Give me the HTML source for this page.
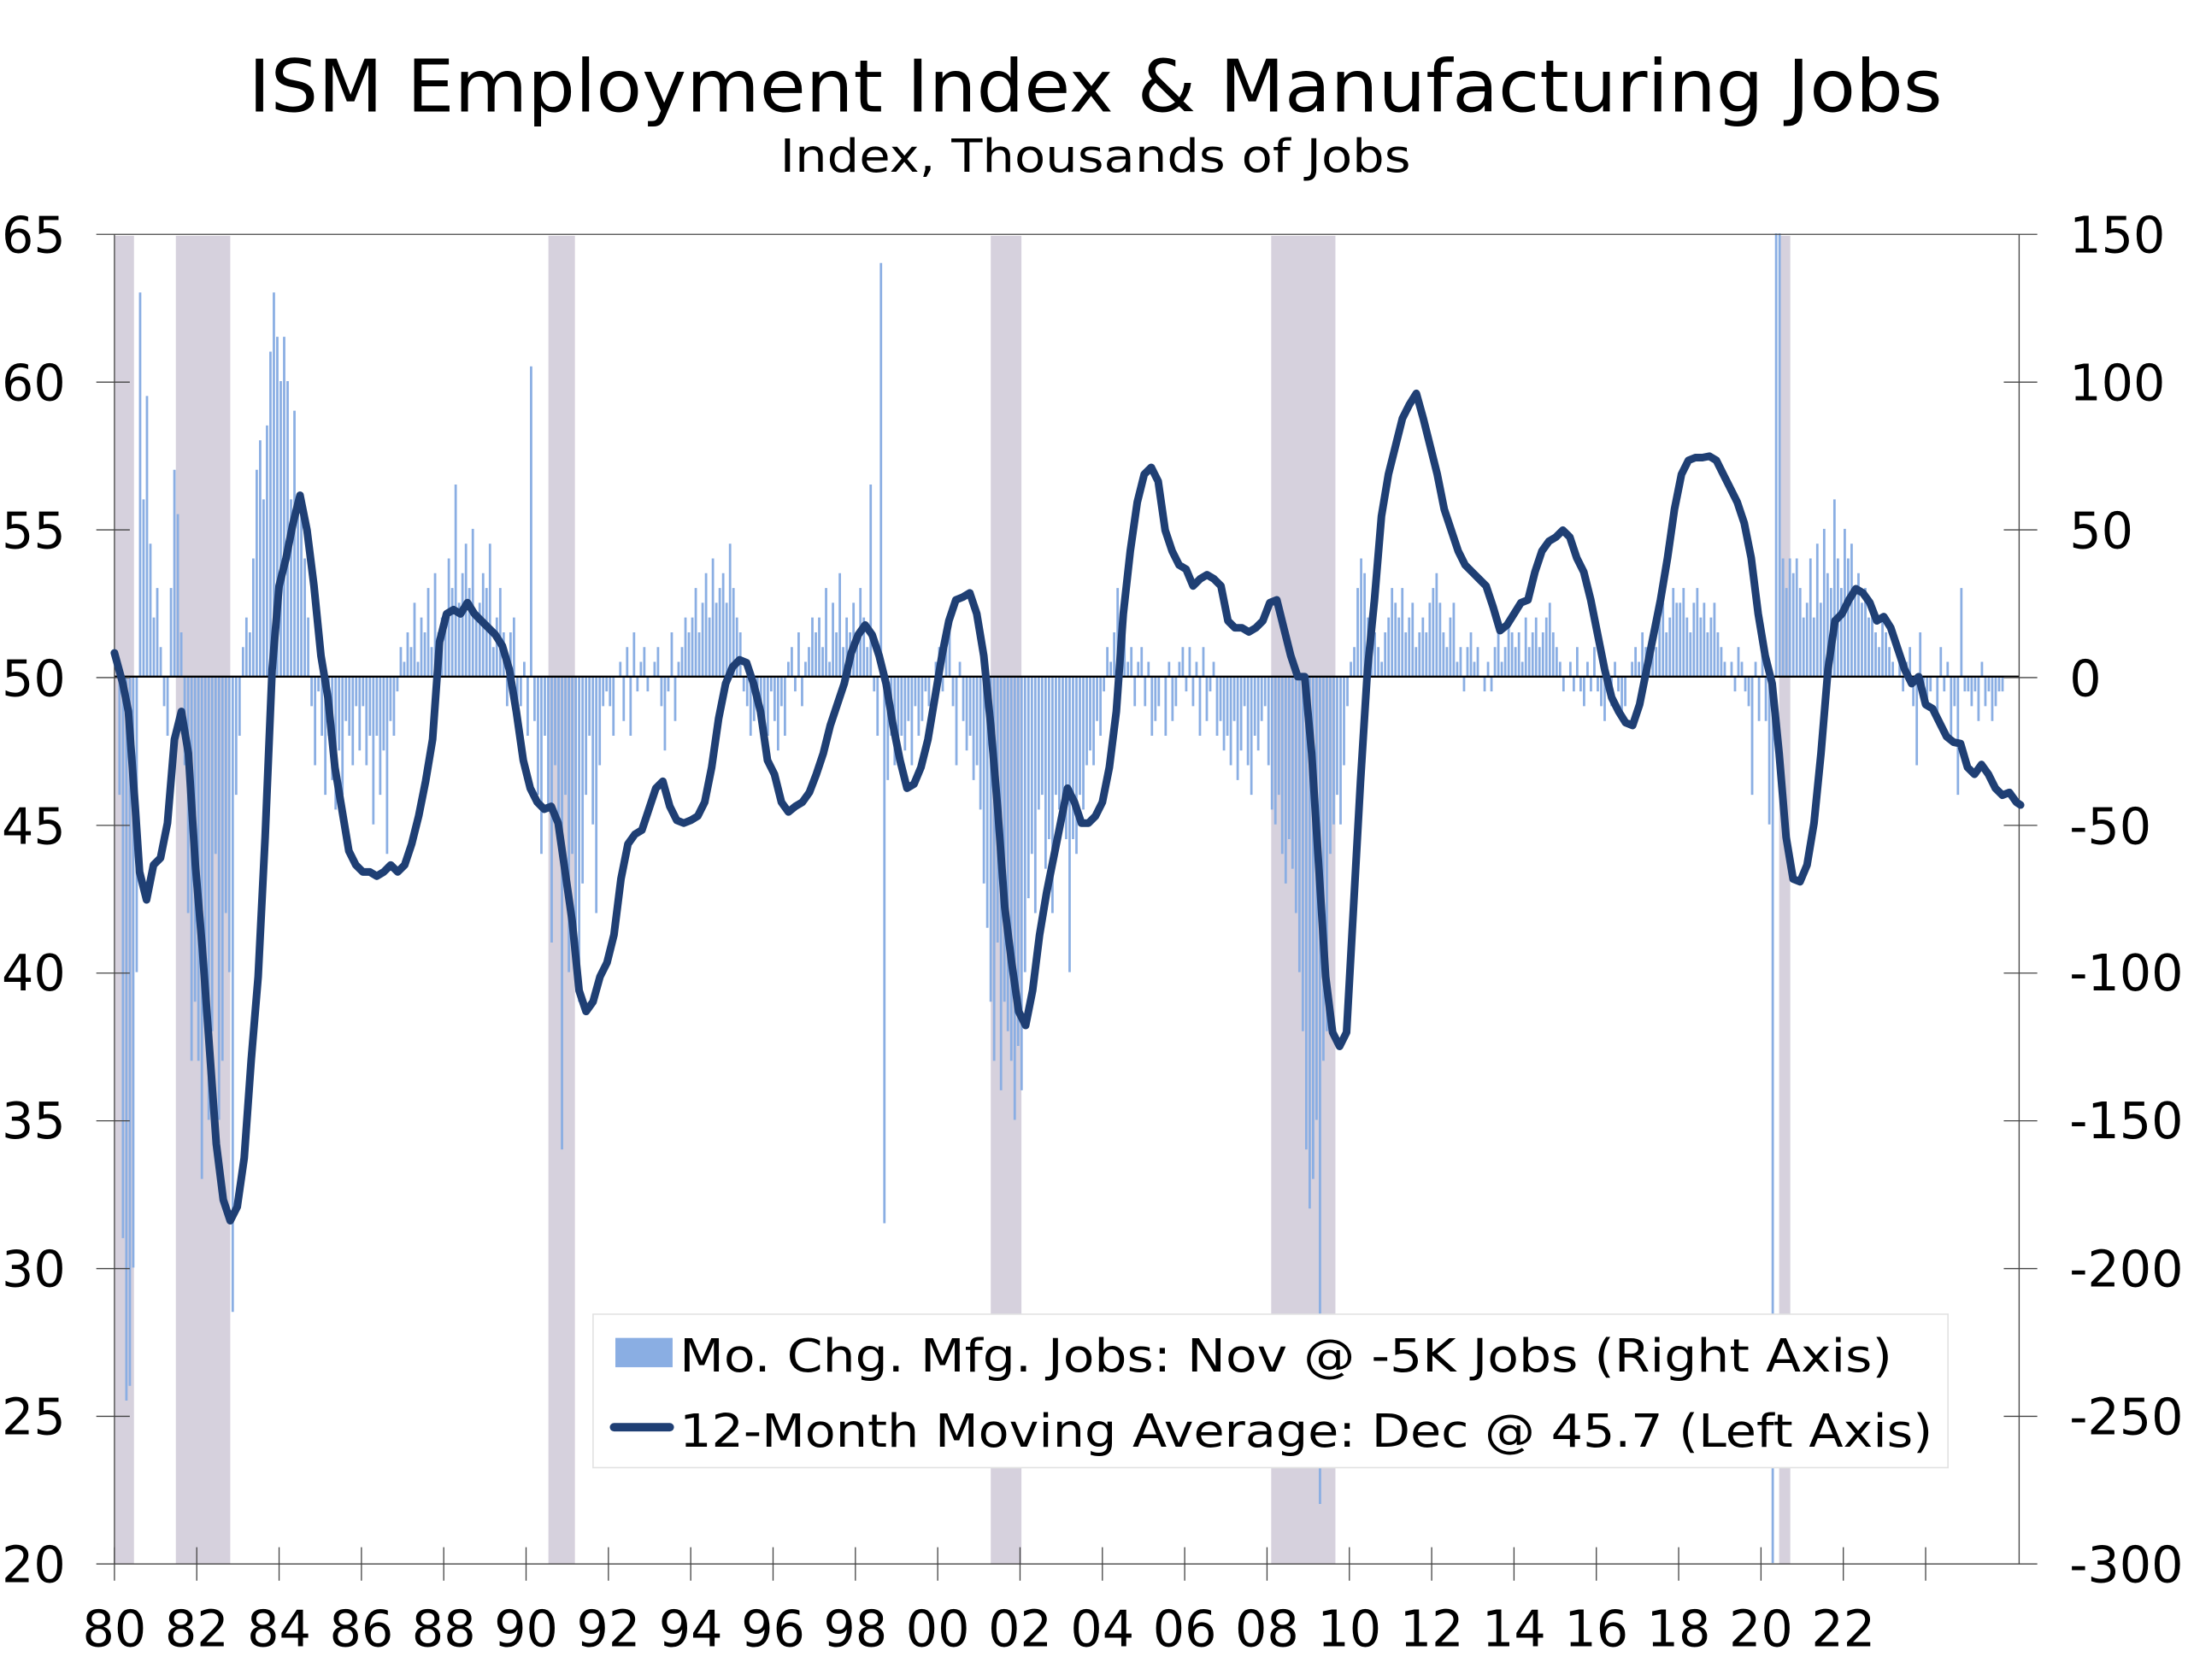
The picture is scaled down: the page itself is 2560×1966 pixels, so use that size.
<!DOCTYPE html>
<html><head><meta charset="utf-8">
<style>
html,body{margin:0;padding:0;background:#fff;}
svg{display:block;}
text{font-family:"DejaVu Sans","Liberation Sans",sans-serif;fill:#000;}
</style></head>
<body>
<svg width="2560" height="1966" viewBox="0 0 1568 1204.2" xmlns="http://www.w3.org/2000/svg">
<g fill="#d6d1dd">
<rect x="82" y="169" width="14" height="952"/>
<rect x="126" y="169" width="39" height="952"/>
<rect x="393" y="169" width="19" height="952"/>
<rect x="710" y="169" width="22" height="952"/>
<rect x="911" y="169" width="46" height="952"/>
<rect x="1275" y="169" width="8" height="952"/>
</g>
<g transform="matrix(1 0 0 -2.118 0 485)">
<path fill="none" stroke="#8aaee3" stroke-width="1.7" d="M83.2 0
v0m2.458 0v-40m2.458 40v-190m2.458 190v-245m2.458 245v-240m2.458 240v-200m2.458 200v-100m2.458 100v130m2.458 -130v60m2.458 -60v95m2.458 -95v45m2.458 -45v20m2.458 -20
v30m2.458 -30v10m2.458 -10v-10m2.458 10v-20m2.458 20v30m2.458 -30v70m2.458 -70v55m2.458 -55v15m2.458 -15v-30m2.458 30v-80m2.458 80v-130m2.458 130v-110m2.458 110
v-130m2.458 130v-170m2.458 170v-100m2.458 100v-150m2.458 150v-120m2.458 120v-60m2.458 60v-150m2.458 150v-130m2.458 130v-80m2.458 80v-100m2.458 100v-215m2.458 215v-40m2.458 40
v-20m2.458 20v10m2.458 -10v20m2.458 -20v15m2.458 -15v40m2.458 -40v70m2.458 -70v80m2.458 -80v60m2.458 -60v85m2.458 -85v110m2.458 -110v130m2.458 -130v115m2.458 -115
v100m2.458 -100v115m2.458 -115v100m2.458 -100v60m2.458 -60v90m2.458 -90v60m2.458 -60v55m2.458 -55v40m2.458 -40v20m2.458 -20v-10m2.458 10v-30m2.458 30v-5m2.458 5
v-20m2.458 20v-40m2.458 40v-20m2.458 20v-35m2.458 35v-45m2.458 45v-25m2.458 25v-40m2.458 40v-15m2.458 15v-20m2.458 20v-30m2.458 30v-10m2.458 10v-25m2.458 25
v-10m2.458 10v-30m2.458 30v-20m2.458 20v-50m2.458 50v-20m2.458 20v-40m2.458 40v-25m2.458 25v-60m2.458 60v-15m2.458 15v-20m2.458 20v-5m2.458 5v10m2.458 -10
v5m2.458 -5v15m2.458 -15v10m2.458 -10v25m2.458 -25v5m2.458 -5v20m2.458 -20v15m2.458 -15v30m2.458 -30v10m2.458 -10v35m2.458 -35v15m2.458 -15v20m2.458 -20
v20m2.458 -20v40m2.458 -40v30m2.458 -30v65m2.458 -65v25m2.458 -25v35m2.458 -35v45m2.458 -45v30m2.458 -30v50m2.458 -50v20m2.458 -20v25m2.458 -25v35m2.458 -35
v30m2.458 -30v45m2.458 -45v10m2.458 -10v20m2.458 -20v30m2.458 -30v15m2.458 -15v-10m2.458 10v15m2.458 -15v20m2.458 -20v-15m2.458 15v-10m2.458 10v5m2.458 -5
v-20m2.458 20v105m2.458 -105v-15m2.458 15v-40m2.458 40v-60m2.458 60v-20m2.458 20v-45m2.458 45v-90m2.458 90v-30m2.458 30v-50m2.458 50v-160m2.458 160v-40m2.458 40
v-100m2.458 100v-60m2.458 60v-90m2.458 90v-110m2.458 110v-70m2.458 70v-40m2.458 40v-20m2.458 20v-50m2.458 50v-80m2.458 80v-30m2.458 30v-10m2.458 10v-5m2.458 5
v-10m2.458 10v-20m2.458 20v0m2.458 0v5m2.458 -5v-15m2.458 15v10m2.458 -10v-20m2.458 20v15m2.458 -15v-5m2.458 5v5m2.458 -5v10m2.458 -10v-5m2.458 5
v0m2.458 0v5m2.458 -5v10m2.458 -10v-10m2.458 10v-25m2.458 25v-5m2.458 5v15m2.458 -15v-15m2.458 15v5m2.458 -5v10m2.458 -10v20m2.458 -20v15m2.458 -15
v20m2.458 -20v30m2.458 -30v15m2.458 -15v25m2.458 -25v35m2.458 -35v20m2.458 -20v40m2.458 -40v25m2.458 -25v30m2.458 -30v35m2.458 -35v25m2.458 -25v45m2.458 -45
v30m2.458 -30v20m2.458 -20v15m2.458 -15v-5m2.458 5v-10m2.458 10v-20m2.458 20v-15m2.458 15v-5m2.458 5v-10m2.458 10v-15m2.458 15v-20m2.458 20v-5m2.458 5
v-15m2.458 15v-25m2.458 25v-10m2.458 10v-20m2.458 20v5m2.458 -5v10m2.458 -10v-5m2.458 5v15m2.458 -15v-10m2.458 10v5m2.458 -5v10m2.458 -10v20m2.458 -20
v15m2.458 -15v20m2.458 -20v10m2.458 -10v30m2.458 -30v5m2.458 -5v25m2.458 -25v15m2.458 -15v35m2.458 -35v10m2.458 -10v20m2.458 -20v15m2.458 -15v25m2.458 -25
v15m2.458 -15v30m2.458 -30v20m2.458 -20v10m2.458 -10v65m2.458 -65v-5m2.458 5v-20m2.458 20v140m2.458 -140v-185m2.458 185v-35m2.458 35v-20m2.458 20v-30m2.458 30
v-30m2.458 30v-20m2.458 20v-25m2.458 25v-15m2.458 15v-30m2.458 30v-10m2.458 10v-20m2.458 20v-15m2.458 15v-5m2.458 5v-10m2.458 10v0m2.458 0v5m2.458 -5
v10m2.458 -10v-5m2.458 5v15m2.458 -15v20m2.458 -20v-10m2.458 10v-30m2.458 30v5m2.458 -5v-15m2.458 15v-25m2.458 25v-20m2.458 20v-35m2.458 35v-30m2.458 30
v-45m2.458 45v-70m2.458 70v-85m2.458 85v-110m2.458 110v-130m2.458 130v-90m2.458 90v-140m2.458 140v-110m2.458 110v-120m2.458 120v-130m2.458 130v-150m2.458 150v-125m2.458 125
v-140m2.458 140v-100m2.458 100v-75m2.458 75v-60m2.458 60v-80m2.458 80v-45m2.458 45v-40m2.458 40v-65m2.458 65v-55m2.458 55v-80m2.458 80v-40m2.458 40v-45m2.458 45
v-50m2.458 50v-55m2.458 55v-100m2.458 100v-55m2.458 55v-60m2.458 60v-40m2.458 40v-45m2.458 45v-30m2.458 30v-25m2.458 25v-30m2.458 30v-15m2.458 15v-20m2.458 20
v-5m2.458 5v10m2.458 -10v5m2.458 -5v15m2.458 -15v30m2.458 -30v15m2.458 -15v25m2.458 -25v5m2.458 -5v10m2.458 -10v-10m2.458 10v5m2.458 -5v10m2.458 -10
v-10m2.458 10v5m2.458 -5v-20m2.458 20v-15m2.458 15v-10m2.458 10v0m2.458 0v-20m2.458 20v5m2.458 -5v-15m2.458 15v-10m2.458 10v5m2.458 -5v10m2.458 -10
v-5m2.458 5v10m2.458 -10v-10m2.458 10v5m2.458 -5v-20m2.458 20v10m2.458 -10v-15m2.458 15v-5m2.458 5v5m2.458 -5v-20m2.458 20v-15m2.458 15v-25m2.458 25
v-20m2.458 20v-30m2.458 30v-15m2.458 15v-35m2.458 35v-25m2.458 25v-10m2.458 10v-30m2.458 30v-40m2.458 40v-20m2.458 20v-25m2.458 25v-15m2.458 15v-10m2.458 10
v-30m2.458 30v-45m2.458 45v-50m2.458 50v-40m2.458 40v-60m2.458 60v-70m2.458 70v-55m2.458 55v-65m2.458 65v-80m2.458 80v-100m2.458 100v-120m2.458 120v-160m2.458 160
v-180m2.458 180v-170m2.458 170v-150m2.458 150v-280m2.458 280v-130m2.458 130v-120m2.458 120v-60m2.458 60v-50m2.458 50v-40m2.458 40v-50m2.458 50v-30m2.458 30v-10m2.458 10
v5m2.458 -5v10m2.458 -10v30m2.458 -30v40m2.458 -40v35m2.458 -35v20m2.458 -20v25m2.458 -25v15m2.458 -15v10m2.458 -10v5m2.458 -5v15m2.458 -15v20m2.458 -20
v30m2.458 -30v25m2.458 -25v20m2.458 -20v30m2.458 -30v15m2.458 -15v20m2.458 -20v25m2.458 -25v10m2.458 -10v15m2.458 -15v20m2.458 -20v15m2.458 -15v25m2.458 -25
v30m2.458 -30v35m2.458 -35v25m2.458 -25v15m2.458 -15v10m2.458 -10v20m2.458 -20v25m2.458 -25v5m2.458 -5v10m2.458 -10v-5m2.458 5v10m2.458 -10v15m2.458 -15
v5m2.458 -5v10m2.458 -10v0m2.458 0v-5m2.458 5v5m2.458 -5v-5m2.458 5v10m2.458 -10v15m2.458 -15v5m2.458 -5v10m2.458 -10v20m2.458 -20v15m2.458 -15
v10m2.458 -10v15m2.458 -15v5m2.458 -5v20m2.458 -20v10m2.458 -10v15m2.458 -15v20m2.458 -20v10m2.458 -10v15m2.458 -15v20m2.458 -20v25m2.458 -25v15m2.458 -15
v10m2.458 -10v5m2.458 -5v-5m2.458 5v0m2.458 0v5m2.458 -5v-5m2.458 5v10m2.458 -10v-5m2.458 5v-10m2.458 10v5m2.458 -5v-5m2.458 5v10m2.458 -10
v-5m2.458 5v-10m2.458 10v-15m2.458 15v-5m2.458 5v-10m2.458 10v5m2.458 -5v-5m2.458 5v-15m2.458 15v-10m2.458 10v0m2.458 0v5m2.458 -5v10m2.458 -10
v5m2.458 -5v15m2.458 -15v10m2.458 -10v5m2.458 -5v15m2.458 -15v10m2.458 -10v20m2.458 -20v25m2.458 -25v15m2.458 -15v20m2.458 -20v30m2.458 -30v25m2.458 -25
v25m2.458 -25v30m2.458 -30v20m2.458 -20v15m2.458 -15v25m2.458 -25v30m2.458 -30v20m2.458 -20v25m2.458 -25v15m2.458 -15v20m2.458 -20v25m2.458 -25v15m2.458 -15
v10m2.458 -10v5m2.458 -5v0m2.458 0v5m2.458 -5v-5m2.458 5v10m2.458 -10v5m2.458 -5v-5m2.458 5v-10m2.458 10v-40m2.458 40v5m2.458 -5v-15m2.458 15
v10m2.458 -10v-15m2.458 15v-50m2.458 50v-300m2.458 300v150m2.458 -150v150m2.458 -150v40m2.458 -40v30m2.458 -30v40m2.458 -40v35m2.458 -35v40m2.458 -40v30m2.458 -30
v20m2.458 -20v25m2.458 -25v40m2.458 -40v20m2.458 -20v45m2.458 -45v25m2.458 -25v50m2.458 -50v35m2.458 -35v30m2.458 -30v60m2.458 -60v40m2.458 -40v30m2.458 -30
v50m2.458 -50v40m2.458 -40v45m2.458 -45v30m2.458 -30v35m2.458 -35v25m2.458 -25v30m2.458 -30v20m2.458 -20v25m2.458 -25v15m2.458 -15v10m2.458 -10v20m2.458 -20
v15m2.458 -15v10m2.458 -10v5m2.458 -5v0m2.458 0v10m2.458 -10v-5m2.458 5v5m2.458 -5v10m2.458 -10v-10m2.458 10v-30m2.458 30v15m2.458 -15v-5m2.458 5
v-10m2.458 10v-5m2.458 5v0m2.458 0v-15m2.458 15v10m2.458 -10v-5m2.458 5v5m2.458 -5v-20m2.458 20v-10m2.458 10v-40m2.458 40v30m2.458 -30v-5m2.458 5
v-5m2.458 5v-10m2.458 10v-5m2.458 5v-15m2.458 15v5m2.458 -5v-10m2.458 10v-5m2.458 5v-15m2.458 15v-10m2.458 10v-5m2.458 5v-5"/>
</g>
<line x1="82" y1="485" x2="1447" y2="485" stroke="#000" stroke-width="1.5"/>
<g stroke="#444" stroke-width="0.8" fill="none">
<line x1="82" y1="168" x2="82" y2="1121"/>
<line x1="1447" y1="168" x2="1447" y2="1121"/>
<line x1="69" y1="168" x2="1460" y2="168"/>
<line x1="69" y1="1121" x2="1460" y2="1121"/>
<path d="M69 273.9H93M69 379.8H93M69 485.7H93M69 591.6H93M69 697.5H93M69 803.4H93M69 909.3H93M69 1015.2H93
M1436 273.9H1460M1436 379.8H1460M1436 485.7H1460M1436 591.6H1460M1436 697.5H1460M1436 803.4H1460M1436 909.3H1460M1436 1015.2H1460
M141 1109V1133M200 1109V1133M259 1109V1133M318 1109V1133M377 1109V1133M436 1109V1133M495 1109V1133M554 1109V1133M613 1109V1133M672 1109V1133M731 1109V1133M790 1109V1133M849 1109V1133M908 1109V1133M967 1109V1133M1026 1109V1133M1085 1109V1133M1144 1109V1133M1203 1109V1133M1262 1109V1133M1321 1109V1133M1380 1109V1133M82 1109V1133"/>
</g>
<polyline fill="none" stroke="#1f3f74" stroke-width="5.5" stroke-linejoin="round" stroke-linecap="round" points="82,468 88,490 92,510 97,580 100,625 105,645 110,620 115,615 120,590 125,530 130,510 135,540 140,620 145,680 150,750 155,820 160,860 165,875 170,865 175,830 180,760 185,700 190,600 195,480 200,420 205,400 210,375 215,355 220,380 225,420 230,470 235,500 240,550 245,580 250,610 255,620 260,625 265,625 270,628 275,625 280,620 285,625 290,620 295,605 300,585 305,560 310,530 315,460 320,440 325,437 330,440 335,432 340,440 345,445 350,450 355,455 360,463 365,480 370,510 375,545 380,565 385,575 390,580 395,578 400,590 405,625 410,660 415,710 420,725 425,718 430,700 435,690 440,670 445,630 450,605 455,598 460,595 465,580 470,565 475,560 480,578 485,588 490,590 495,588 500,585 505,575 510,550 515,515 520,490 525,478 530,473 535,475 540,490 545,510 550,545 555,555 560,575 565,582 570,578 575,575 580,568 585,555 590,540 595,520 600,505 605,490 610,468 615,455 620,448 625,455 630,470 635,490 640,520 645,545 650,565 655,562 660,550 665,530 670,500 675,470 680,445 685,430 690,428 695,425 700,440 705,470 710,520 715,580 720,650 725,690 730,725 735,735 740,710 745,670 750,640 755,615 760,590 765,565 770,575 775,590 780,590 785,585 790,575 795,550 800,510 805,440 810,395 815,360 820,340 825,335 830,345 835,380 840,395 845,405 850,408 855,420 860,415 865,412 870,415 875,420 880,445 885,450 890,450 895,453 900,450 905,445 910,432 915,430 920,450 925,470 930,485 935,485 940,540 945,620 950,700 955,740 960,750 965,740 970,650 975,560 980,480 985,430 990,370 995,340 1000,320 1005,300 1010,290 1015,282 1020,300 1025,320 1030,340 1035,365 1040,380 1045,395 1050,405 1055,410 1060,415 1065,420 1070,435 1075,452 1080,448 1085,440 1090,432 1095,430 1100,410 1105,395 1110,388 1115,385 1120,380 1125,385 1130,400 1135,410 1140,430 1145,455 1150,480 1155,500 1160,510 1165,518 1170,520 1175,505 1180,480 1185,455 1190,430 1195,400 1200,365 1205,340 1210,330 1215,328 1220,328 1225,327 1230,330 1235,340 1240,350 1245,360 1250,375 1255,400 1260,440 1265,470 1270,490 1275,540 1280,600 1285,630 1290,632 1295,620 1300,590 1305,540 1310,480 1315,445 1320,440 1325,430 1330,422 1335,425 1340,432 1345,445 1350,442 1355,450 1360,465 1365,480 1370,490 1375,485 1380,505 1385,508 1390,518 1395,528 1400,532 1405,533 1410,550 1415,555 1420,548 1425,555 1430,565 1435,570 1440,568 1445,575 1448,577"/>
<g font-size="36" text-anchor="end">
<text x="47" y="181">65</text><text x="47" y="287">60</text><text x="47" y="393">55</text><text x="47" y="499">50</text><text x="47" y="605">45</text>
<text x="47" y="710">40</text><text x="47" y="816">35</text><text x="47" y="922">30</text><text x="47" y="1028">25</text><text x="47" y="1134">20</text>
</g>
<g font-size="36">
<text x="1483" y="181">150</text><text x="1483" y="287">100</text><text x="1483" y="393">50</text><text x="1483" y="499">0</text><text x="1483" y="605">-50</text>
<text x="1483" y="710">-100</text><text x="1483" y="816">-150</text><text x="1483" y="922">-200</text><text x="1483" y="1028">-250</text><text x="1483" y="1134">-300</text>
</g>
<g font-size="36" text-anchor="middle">
<text x="82" y="1180">80</text><text x="141" y="1180">82</text><text x="200" y="1180">84</text><text x="259" y="1180">86</text><text x="318" y="1180">88</text><text x="377" y="1180">90</text><text x="436" y="1180">92</text><text x="495" y="1180">94</text><text x="554" y="1180">96</text><text x="613" y="1180">98</text><text x="672" y="1180">00</text><text x="731" y="1180">02</text><text x="790" y="1180">04</text><text x="849" y="1180">06</text><text x="908" y="1180">08</text><text x="967" y="1180">10</text><text x="1026" y="1180">12</text><text x="1085" y="1180">14</text><text x="1144" y="1180">16</text><text x="1203" y="1180">18</text><text x="1262" y="1180">20</text><text x="1321" y="1180">22</text>
</g>
<text x="785" y="80" font-size="52" text-anchor="middle" textLength="1214" lengthAdjust="spacingAndGlyphs">ISM Employment Index &amp; Manufacturing Jobs</text>
<text x="785" y="123" font-size="33" text-anchor="middle" textLength="452" lengthAdjust="spacingAndGlyphs">Index, Thousands of Jobs</text>
<rect x="425" y="942" width="971" height="110" fill="#fff" stroke="#e2e2e2" stroke-width="1"/>
<rect x="441" y="959" width="41" height="21" fill="#8aaee3"/>
<line x1="440" y1="1023" x2="480" y2="1023" stroke="#1f3f74" stroke-width="6" stroke-linecap="round"/>
<text x="487" y="983" font-size="33" textLength="869" lengthAdjust="spacingAndGlyphs">Mo. Chg. Mfg. Jobs: Nov @ -5K Jobs (Right Axis)</text>
<text x="487" y="1037" font-size="33" textLength="898" lengthAdjust="spacingAndGlyphs">12-Month Moving Average: Dec @ 45.7 (Left Axis)</text>
</svg>
</body></html>
